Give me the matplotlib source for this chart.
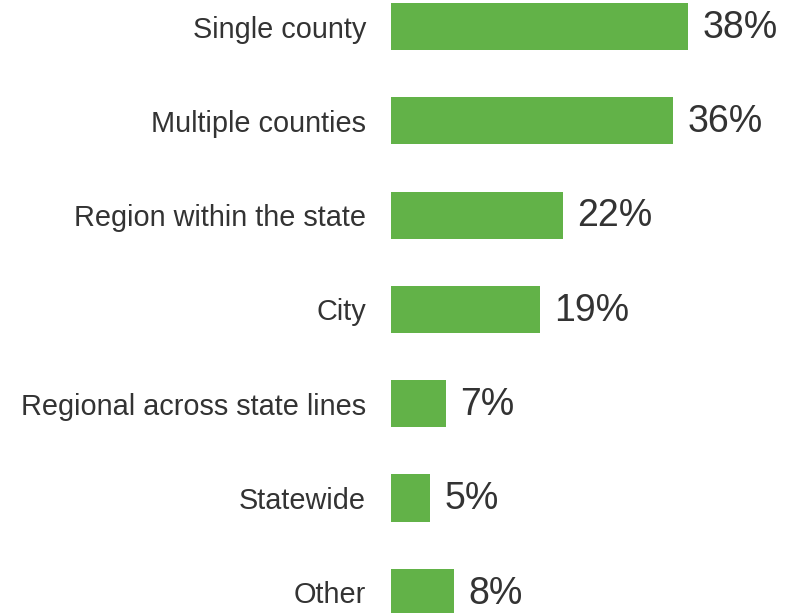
import matplotlib.pyplot as plt

categories = ["Single county", "Multiple counties", "Region within the state", "City",
              "Regional across state lines", "Statewide", "Other"]
shares = [38, 36, 22, 19, 7, 5, 8]

plt.rcParams['font.family'] = ['Liberation Sans', 'DejaVu Sans']

fig = plt.figure(figsize=(7.92, 6.13), dpi=100)
ax = fig.add_axes([391 / 792, 0, 391 / 792, 1])

pos = list(range(len(categories)))
ax.barh(pos, shares, height=0.5, color="#62b248")

ax.set_xlim(0, 50)
ax.set_ylim((613 - 26.5) / 94.3, -26.5 / 94.3)

for y, v in zip(pos, shares):
    ax.annotate(f"{v}%", (v, y), xytext=(10.5, 2), textcoords="offset points",
                va="center_baseline", ha="left", fontsize=27, color="#333333")

ax.set_yticks(pos)
ax.set_yticklabels(categories, fontsize=20.8, color="#333333")
ax.tick_params(axis="y", length=0, pad=18)
ax.set_xticks([])
for s in ax.spines.values():
    s.set_visible(False)

fig.savefig("out.png", dpi=100)
